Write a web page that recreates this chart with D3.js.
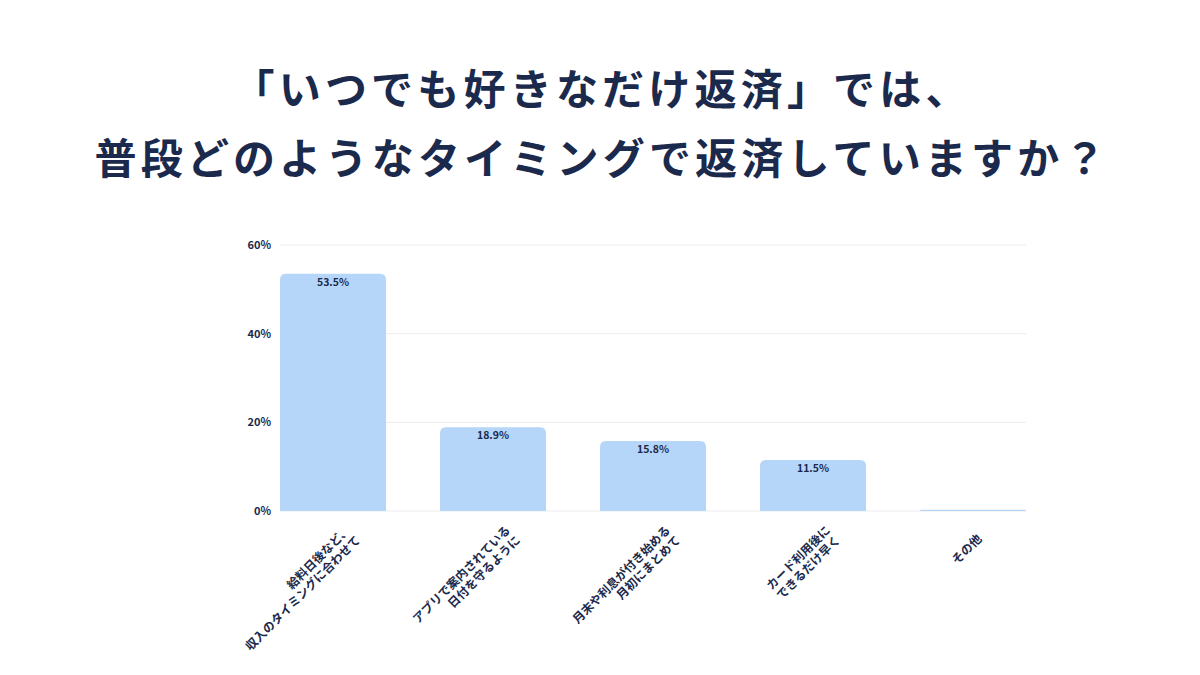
<!DOCTYPE html>
<html><head><meta charset="utf-8">
<script src="https://cdn.jsdelivr.net/npm/d3@7"></script>
<style>
html,body{margin:0;padding:0;background:#fff;}
svg{display:block;}
</style></head>
<body>
<svg id="chart" width="1200" height="675"></svg>
<script>
const titleLines = ["「いつでも好きなだけ返済」では、", "普段どのようなタイミングで返済していますか？"];
const categories = [
  ["給料日後など、", "収入のタイミングに合わせて"],
  ["アプリで案内されている", "日付を守るように"],
  ["月末や利息が付き始める", "月初にまとめて"],
  ["カード利用後に", "できるだけ早く"],
  ["その他"]
];
const values = [53.5, 18.9, 15.8, 11.5, 0.3];
const yTicks = [0, 20, 40, 60];

const navy = "#1b2a4c";
const barColor = "#b5d6f8";
const font = "'Noto Sans CJK JP','Noto Sans',sans-serif";

const svg = d3.select("#chart");

// Title
const ls = 4.2;
svg.append("g").selectAll("text").data(titleLines).join("text")
  .attr("x", 600 + ls / 2)
  .attr("y", (d, i) => 105 + i * 69)
  .attr("text-anchor", "middle")
  .attr("font-family", font)
  .attr("font-weight", 700)
  .attr("font-size", 42)
  .attr("letter-spacing", ls)
  .attr("fill", navy)
  .text(d => d);

const x = d3.scaleBand()
  .domain(d3.range(categories.length))
  .range([280, 1026])
  .paddingInner(0.3375)
  .paddingOuter(0);

const y = d3.scaleLinear().domain([0, 60]).range([511, 245]);

// gridlines
svg.append("g").selectAll("line").data(yTicks).join("line")
  .attr("x1", 280).attr("x2", 1026)
  .attr("y1", d => y(d)).attr("y2", d => y(d))
  .attr("stroke", "#ececec").attr("stroke-width", 1);

// y axis labels
const yAxis = d3.axisLeft(y).tickValues(yTicks).tickFormat(d => d + "%").tickSize(0).tickPadding(0);
const yg = svg.append("g").attr("transform", "translate(271,0)").call(yAxis);
yg.select(".domain").remove();
yg.selectAll("text")
  .attr("font-family", font)
  .attr("font-weight", 700)
  .attr("font-size", 11)
  .attr("fill", navy);

// bars with rounded top corners
const r = 6;
function barPath(x0, w, yTop, yBot) {
  const h = yBot - yTop;
  const rr = Math.min(r, h, w / 2);
  return `M${x0},${yBot}V${yTop + rr}Q${x0},${yTop} ${x0 + rr},${yTop}H${x0 + w - rr}Q${x0 + w},${yTop} ${x0 + w},${yTop + rr}V${yBot}Z`;
}
svg.append("g").selectAll("path").data(values).join("path")
  .attr("d", (d, i) => barPath(x(i), x.bandwidth(), y(d), y(0)))
  .attr("fill", barColor);

// value labels
svg.append("g").selectAll("text").data(values.map((v, i) => ({v, i})).filter(d => d.v >= 1)).join("text")
  .attr("x", d => x(d.i) + x.bandwidth() / 2)
  .attr("y", d => y(d.v) + 12)
  .attr("text-anchor", "middle")
  .attr("font-family", font)
  .attr("font-weight", 700)
  .attr("font-size", 10.5)
  .attr("fill", navy)
  .text(d => d.v.toFixed(1) + "%");

// x labels rotated
const xl = svg.append("g").selectAll("text").data(categories).join("text")
  .attr("transform", (d, i) => `translate(${x(i) + x.bandwidth() / 2 + 18},531) rotate(-45)`)
  .attr("text-anchor", "end")
  .attr("font-family", font)
  .attr("font-weight", 700)
  .attr("font-size", 12)
  .attr("fill", navy);
xl.each(function(lines) {
  const t = d3.select(this);
  const dx = lines.length === 1 ? -12 : 0;
  lines.forEach((ln, j) => {
    t.append("tspan").attr("x", dx).attr("y", j * 14).text(ln);
  });
});
</script>
</body></html>
